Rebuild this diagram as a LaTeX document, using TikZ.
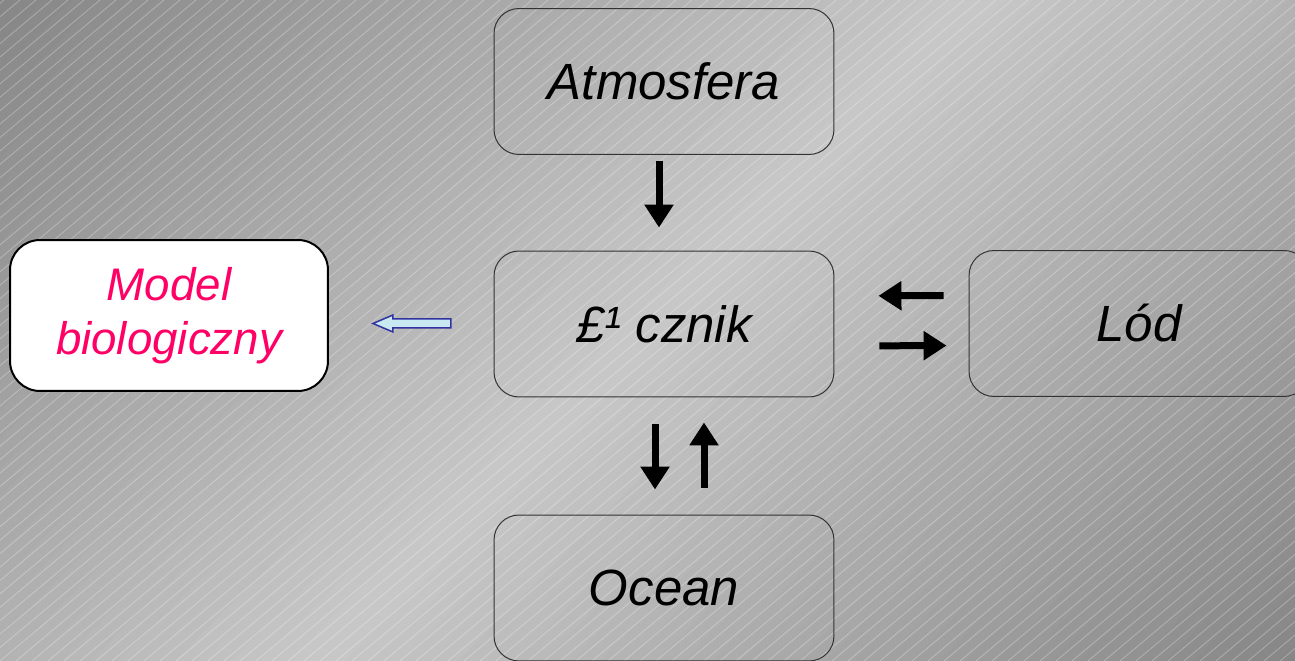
\documentclass[tikz,border=0pt]{standalone}
\usepackage{fontspec}
\setmainfont{Liberation Sans}
\usepackage{xcolor}
\usetikzlibrary{arrows.meta}

\newdimen\pxu \pxu=0.2mm
\definecolor{bgdark}{RGB}{134,134,134}
\definecolor{bglight}{RGB}{200,200,200}
\definecolor{modelpink}{RGB}{255,0,102}
\definecolor{hollowfill}{RGB}{200,232,242}
\definecolor{hollowline}{RGB}{50,50,160}

\tikzset{
  sysbox/.style={draw=black!80, line width=0.2mm, rounded corners=5mm,
    minimum width=68mm, minimum height=29.2mm,
    font=\fontsize{29}{35}\selectfont\itshape},
  flux/.style={line width=1.4mm, -{Triangle[length=4.6mm,width=5.6mm]}},
  hatch/.style={white, opacity=0.28, line width=0.18mm}
}

\begin{document}
\begin{tikzpicture}[x=0.02cm, y=-0.02cm]
  \useasboundingbox (0,0) rectangle (1295,661);
  % background
  \begin{scope}
    \clip (0,0) rectangle (1295,661);
    \foreach \i in {0,...,69} {
      \pgfmathsetmacro\mixv{100-100*abs(\i-34.5)/34.5}
      \fill[bglight!\mixv!bgdark, rotate around={45:(647.5,330.5)}]
        (-153,-370+\i*20) rectangle (1448,-349.5+\i*20);
    }
    \foreach \k in {-800,-784,...,1300}
      \draw[hatch] (\k,661) -- ++(788,-661);
  \end{scope}

  % boxes
  \node[sysbox] (atm) at (664,81.5) {Atmosfera};
  \node[sysbox] (lac) at (664,324) {£¹ cznik};
  \node[sysbox] (ocean) at (664,588) {Ocean};
  \node[sysbox] (lod) at (1139,323.5) {Lód};
  \node[draw, line width=0.4mm, fill=white, rounded corners=6mm,
    minimum width=63.6mm, minimum height=30.2mm, align=center, text=modelpink,
    font=\fontsize{26}{31}\selectfont\itshape] (model) at (169,315.5) {Model\\biologiczny};

  % fluxes
  \draw[flux, shorten <=6\pxu, shorten >=23\pxu] ([shift={(-5,0)}]atm.south) -- ([shift={(-5,0)}]lac.north); % atm-lac
  \draw[flux, shorten <=27\pxu, shorten >=25\pxu] ([shift={(-9,0)}]lac.south) -- ([shift={(-9,0)}]ocean.north); % lac-ocean
  \draw[flux, shorten <=27\pxu, shorten >=25\pxu] ([shift={(40,0)}]ocean.north) -- ([shift={(40,0)}]lac.south); % ocean-lac
  \draw[flux, shorten <=25\pxu, shorten >=44\pxu] ([shift={(0,-28)}]lod.west) -- ([shift={(0,-28)}]lac.east); % lod-lac
  \draw[flux, shorten <=45\pxu, shorten >=22\pxu] ([shift={(0,22)}]lac.east) -- ([shift={(0,22)}]lod.west); % lac-lod

  % hollow arrow to the model
  \coordinate (htip) at ([shift={(44,8)}]model.east);
  \draw[hollowline, fill=hollowfill, line width=0.3mm, line join=miter]
    (htip) -- ++(20,-8.5) -- ++(0,4) -- ++(58,0) -- ++(0,9) -- ++(-58,0) -- ++(0,4) -- cycle;
\end{tikzpicture}
\end{document}
